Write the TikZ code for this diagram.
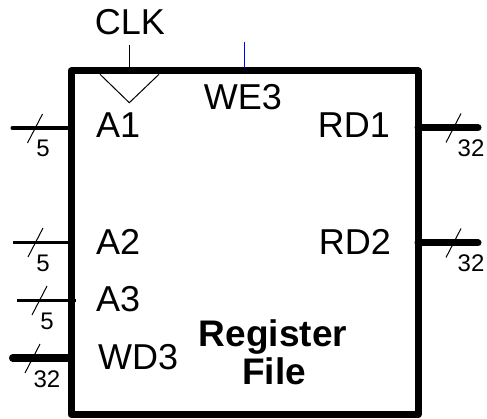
\documentclass[tikz,border=0pt]{standalone}
\usepackage{fontspec}
\setmainfont{Liberation Sans}
\begin{document}
\begin{tikzpicture}[x=1pt,y=-1pt,
  lbl/.style={inner sep=0pt, font=\fontsize{36}{40}\selectfont},
  bw/.style={inner sep=0pt, font=\fontsize{24}{26}\selectfont},
  title/.style={inner sep=0pt, font=\fontsize{37}{40}\selectfont\bfseries},
  boxline/.style={line width=7pt, line join=round},
  busthick/.style={line width=7pt, line cap=round},
  busmed/.style={line width=4.5pt, line cap=round},
  busthin/.style={line width=3.2pt},
  thinw/.style={line width=1pt},
  slashw/.style={line width=1pt}]
\useasboundingbox (0,0) rectangle (487,419);
% main box
\coordinate (tl) at (71,71);
\coordinate (br) at (418,414.5);
\draw[boxline] (tl) rectangle (br);
% clock
\coordinate (clktop) at (129.3,45);
\coordinate (clkin) at (129.3,71);
\coordinate (trl) at (100,74.3);
\coordinate (trt) at (129.3,102.7);
\coordinate (trr) at (159,74.3);
\draw[thinw] (clktop) -- (clkin);
\draw[thinw] (trl) -- (trt) -- (trr);
\node[lbl, anchor=base] (clk) at (130,35) {CLK};
% WE3
\coordinate (wetop) at (244.5,42);
\coordinate (wein) at (244.5,68);
\draw[thinw, blue] (wetop) -- (wein);
\node[lbl, anchor=base] (we3) at (243,110) {WE3};
% inputs
\coordinate (a1s) at (12.7,128);
\coordinate (a1e) at (71,128);
\coordinate (a2s) at (13,242.7);
\coordinate (a2e) at (71,242.7);
\coordinate (a3s) at (17,300.5);
\coordinate (a3e) at (76,300.5);
\coordinate (wds) at (12.5,358);
\coordinate (wde) at (71,358);
\draw[busmed] (a1s) -- (a1e);
\draw[busthin] (a2s) -- (a2e);
\draw[busthin] (a3s) -- (a3e);
\draw[busthick] (wds) -- (wde);
% outputs
\coordinate (r1s) at (418,127.7);
\coordinate (r1e) at (478,127.7);
\coordinate (r2s) at (418,243);
\coordinate (r2e) at (478,243);
\draw[busthick] (r1s) -- (r1e);
\draw[busthick] (r2s) -- (r2e);
% slashes
\foreach \n/\cx/\cy in {s1/35/128.5, s2/35.5/242.5, s3/39.5/300.5, s4/32.5/358.5, s5/453.5/128, s6/453.5/243}{
  \draw[slashw] (\cx-7.5,\cy+14.5) -- (\cx+7.5,\cy-14.5);
}
% bus widths
\node[bw, anchor=base] (w1) at (43,157) {5};
\node[bw, anchor=base] (w2) at (43,272) {5};
\node[bw, anchor=base] (w3) at (47,330) {5};
\node[bw, anchor=base] (w4) at (47,387) {32};
\node[bw, anchor=base] (w5) at (471,157) {32};
\node[bw, anchor=base] (w6) at (471,272) {32};
% port labels
\node[lbl, anchor=base west] (a1) at (96,138) {A1};
\node[lbl, anchor=base west] (a2) at (96,255) {A2};
\node[lbl, anchor=base west] (a3) at (96,312) {A3};
\node[lbl, anchor=base west] (wd3) at (98,370) {WD3};
\node[lbl, anchor=base east] (rd1) at (390,138) {RD1};
\node[lbl, anchor=base east] (rd2) at (391,255) {RD2};
% title
\node[title, anchor=base] (reg) at (273,347) {Register};
\node[title, anchor=base] (file) at (274,384) {File};
\end{tikzpicture}
\end{document}
